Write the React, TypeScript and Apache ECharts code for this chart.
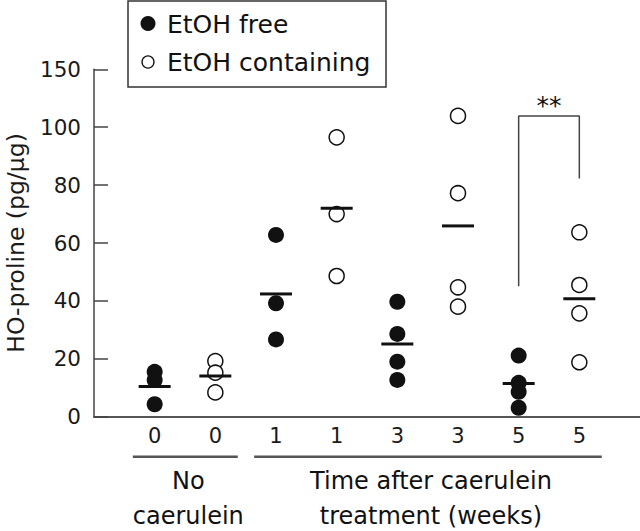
import React, { useEffect, useRef } from 'react';
import * as echarts from 'echarts';

// Category positions on the x axis and their tick labels
const xPositions = [1, 2, 3, 4, 5, 6, 7, 8];
const xLabels = ['0', '0', '1', '1', '3', '3', '5', '5'];

// EtOH free (filled circles)
const freeNoCaerulein = [15.5, 12.7, 4.3];
const freeWeek1 = [62.8, 39.2, 26.7];
const freeWeek3 = [39.7, 28.6, 19.0, 12.7];
const freeWeek5 = [21.1, 11.7, 8.6, 3.1];

// EtOH containing (open circles)
const contNoCaerulein = [19.2, 15.2, 8.4];
const contWeek1 = [96.5, 70.0, 48.6];
const contWeek3 = [103.9, 77.2, 44.7, 38.0];
const contWeek5 = [63.7, 45.5, 35.7, 18.8];

// Group means (horizontal bars), one per category position
const groupMeans = [10.4, 14.1, 42.4, 72.0, 25.1, 65.9, 11.5, 40.7];

// Significance bracket between week-5 groups
const bracketPoints = [[7, 45.1], [7, 103.9], [8, 103.9], [8, 82.3]];
const bracketLabel = '**';

// Group labels under the axis
const groupLabels = [
  { from: 1, to: 2, lines: ['No', 'caerulein'] },
  { from: 3, to: 8, lines: ['Time after caerulein', 'treatment (weeks)'] },
];

const yTopValue = 120;
const yTopLabel = '150';
const FONT = 'DejaVu Sans';

function pts(x: number, vals: number[]) {
  return vals.map((v) => [x, v]);
}

export default function App() {
  const ref = useRef<HTMLDivElement>(null);
  useEffect(() => {
    if (!ref.current) return;
    const chart = echarts.init(ref.current, null, { renderer: 'svg' });
    const freeData = [
      ...pts(1, freeNoCaerulein),
      ...pts(3, freeWeek1),
      ...pts(5, freeWeek3),
      ...pts(7, freeWeek5),
    ];
    const contData = [
      ...pts(2, contNoCaerulein),
      ...pts(4, contWeek1),
      ...pts(6, contWeek3),
      ...pts(8, contWeek5),
    ];
    const meanData = xPositions.map((x, i) => [x, groupMeans[i]]);
    const option: any = {
      animation: false,
      textStyle: { fontFamily: FONT },
      grid: { left: 94, right: 0, top: 69.3, bottom: 114.3, containLabel: false, outerBoundsMode: 'none' },
      xAxis: {
        type: 'value',
        min: 0,
        max: 9,
        interval: 1,
        axisLine: { show: true, lineStyle: { color: '#555', width: 2 } },
        axisTick: { show: false },
        splitLine: { show: false },
        axisLabel: {
          fontSize: 21,
          color: '#1a1a1a',
          fontFamily: FONT,
          margin: 9,
          formatter: (v: number) => (v >= 1 && v <= 8 ? xLabels[v - 1] : ''),
        },
      },
      yAxis: {
        type: 'value',
        min: 0,
        max: yTopValue,
        interval: 20,
        name: 'HO-proline (pg/μg)',
        nameLocation: 'middle',
        nameGap: 66,
        nameTextStyle: { fontSize: 23.5, color: '#1a1a1a', fontFamily: FONT },
        axisLine: { show: true, lineStyle: { color: '#444', width: 1.5 } },
        axisTick: { show: true, inside: true, length: 14, lineStyle: { color: '#444', width: 1.5 } },
        splitLine: { show: false },
        axisLabel: {
          fontSize: 21.5,
          color: '#1a1a1a',
          fontFamily: FONT,
          margin: 13,
          formatter: (v: number) => (v === yTopValue ? yTopLabel : String(v)),
        },
      },
      series: [
        {
          type: 'scatter',
          name: 'EtOH free',
          data: freeData,
          symbol: 'circle',
          symbolSize: 16,
          itemStyle: { color: '#111', opacity: 1 },
          z: 3,
        },
        {
          type: 'scatter',
          name: 'EtOH containing',
          data: contData,
          symbol: 'circle',
          symbolSize: 15,
          itemStyle: { color: '#fff', borderColor: '#111', borderWidth: 1.5, opacity: 1 },
          z: 3,
        },
        {
          type: 'scatter',
          name: 'mean',
          data: meanData,
          symbol: 'rect',
          symbolSize: [32, 3],
          itemStyle: { color: '#111', opacity: 1 },
          z: 5,
        },
        {
          type: 'line',
          name: 'bracket',
          data: bracketPoints,
          symbol: 'none',
          lineStyle: { color: '#444', width: 1.5 },
          silent: true,
          z: 2,
        },
      ],
    };
    chart.setOption(option);

    const graphics: any[] = [];
    // legend box
    graphics.push({
      type: 'rect',
      shape: { x: 128, y: 1, width: 258, height: 86 },
      style: { fill: '#fff', stroke: '#333', lineWidth: 1.5 },
      z: 10,
    });
    graphics.push({
      type: 'circle',
      shape: { cx: 148, cy: 23.5, r: 7.5 },
      style: { fill: '#111' },
      z: 11,
    });
    graphics.push({
      type: 'circle',
      shape: { cx: 148, cy: 62, r: 6 },
      style: { fill: '#fff', stroke: '#111', lineWidth: 1.3 },
      z: 11,
    });
    graphics.push({
      type: 'text',
      x: 167,
      y: 24,
      style: { text: 'EtOH free', fontSize: 25, fontFamily: FONT, fill: '#111', verticalAlign: 'middle', align: 'left' },
      z: 11,
    });
    graphics.push({
      type: 'text',
      x: 167,
      y: 62,
      style: { text: 'EtOH containing', fontSize: 25, fontFamily: FONT, fill: '#111', verticalAlign: 'middle', align: 'left' },
      z: 11,
    });

    // significance stars above the bracket
    const sp = chart.convertToPixel({ gridIndex: 0 }, [
      (bracketPoints[1][0] + bracketPoints[2][0]) / 2,
      bracketPoints[1][1],
    ]) as number[];
    graphics.push({
      type: 'text',
      x: sp[0],
      y: sp[1] - 10,
      style: { text: bracketLabel, fontSize: 25, fontFamily: FONT, fill: '#111', align: 'center', verticalAlign: 'middle' },
      z: 11,
    });

    // group lines + labels
    groupLabels.forEach((g) => {
      const p1 = chart.convertToPixel({ gridIndex: 0 }, [g.from - 0.36, 0]) as number[];
      const p2 = chart.convertToPixel({ gridIndex: 0 }, [g.to + 0.37, 0]) as number[];
      const lineY = 456.7;
      graphics.push({
        type: 'line',
        shape: { x1: p1[0], y1: lineY, x2: p2[0], y2: lineY },
        style: { stroke: '#555', lineWidth: 2.5 },
      });
      g.lines.forEach((t, i) => {
        graphics.push({
          type: 'text',
          x: (p1[0] + p2[0]) / 2 + 3,
          y: 481 + i * 35,
          style: {
            text: t,
            fontSize: 24,
            lineHeight: 24,
            fontFamily: FONT,
            fill: '#111',
            align: 'center',
            verticalAlign: 'middle',
          },
        });
      });
    });
    chart.setOption({ graphic: graphics });

    return () => chart.dispose();
  }, []);
  return (
    <div
      ref={ref}
      style={{ position: 'fixed', left: 0, top: 0, width: 640, height: 531, background: '#fff' }}
    />
  );
}
